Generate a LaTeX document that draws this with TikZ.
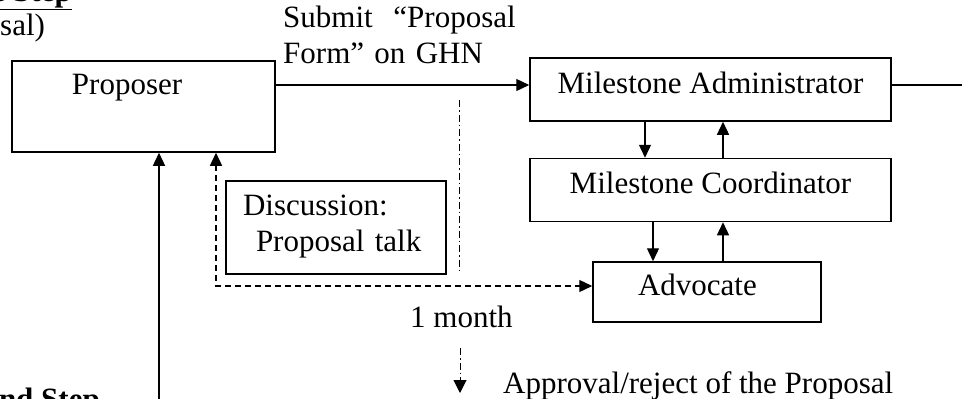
\documentclass[tikz,border=0pt]{standalone}
\usepackage{fontspec}
\setmainfont{Liberation Serif}
\usepackage{tikz}
\usetikzlibrary{arrows.meta,positioning}
\tikzstyle{block} = [rectangle, draw=black, line width=1.5pt, inner sep=0pt, text height=35pt]
\tikzstyle{txt} = [inner sep=0pt]
\tikzstyle{link} = [line width=1.3pt]
\tikzstyle{arrow} = [line width=1.3pt,-{Triangle[length=13pt,width=12pt]}]
\tikzstyle{talk} = [line width=1.3pt, dash pattern=on 6pt off 4pt, {Triangle[length=13pt,width=12pt]}-{Triangle[length=13pt,width=12pt]}]
\tikzstyle{timeline} = [line width=1pt, dash pattern=on 7pt off 3pt on 1.5pt off 3pt]

\begin{document}
\begin{tikzpicture}[x=1pt, y=-1pt, font=\fontsize{31pt}{36pt}\selectfont]
        \useasboundingbox (0,0) rectangle (962,399);
        % boxes
        \node (proposer) [block, minimum width=263pt, minimum height=91pt, text width=263pt, align=left, text height=33pt, text depth=58pt] at (143.5,106.5) {\hspace*{60pt}Proposer};
        \node (admin) [block, minimum width=361pt, minimum height=63pt, text depth=28pt] at (710.5,89.5) {Milestone Administrator};
        \node (coord) [block, minimum width=361pt, minimum height=63pt, text depth=28pt, below=36pt of admin] {Milestone Coordinator};
        \node (advocate) [block, minimum width=228pt, minimum height=60pt, text width=228pt, align=left, text height=33pt, text depth=27pt] at (707,292) {\hspace*{45pt}Advocate};
        \node (discussion) [block, minimum width=220pt, text width=220pt, align=left, text height=34pt, text depth=59pt] at (336,227.5) {\hspace*{17pt}Discussion:\\\hspace*{30pt}Proposal talk};
        % texts
        \node (submit) [txt, anchor=base west, text width=240pt, align=left] at (283,27) {Submit\ \ “Proposal\\Form” on GHN};
        \node (month) [txt, anchor=base west] at (410,327) {1 month};
        \node (approval) [txt, anchor=base west] at (503,393) {Approval/reject of the Proposal};
        \node (firststep) [txt, anchor=base east] at (72,1) {\underline{\textbf{e Step}}};
        \node (proposal) [txt, anchor=base west] at (0,35) {sal)};
        \node (secondstep) [txt, anchor=base east] at (100,409) {\textbf{ond Step}};
        % connectors
        \coordinate (submitend) at ([yshift=4.5pt]admin.west);
        \coordinate (offright) at (962,85);
        \draw [arrow] (submitend -| proposer.east) -- (submitend);
        \draw [link] ([yshift=4.5pt]admin.east) -- (offright);
        \draw [arrow] ([xshift=-65.5pt]admin.south) -- ([xshift=-65.5pt]coord.north);
        \draw [arrow] ([xshift=12.5pt]coord.north) -- ([xshift=12.5pt]admin.south);
        \coordinate (cdown) at ([xshift=-57.5pt]coord.south);
        \coordinate (cup) at ([xshift=12.5pt]coord.south);
        \draw [arrow] (cdown) -- (cdown |- advocate.north);
        \draw [arrow] (cup |- advocate.north) -- (cup);
        \coordinate (talkstart) at ([xshift=72.5pt]proposer.south);
        \coordinate (talkend) at ([yshift=6pt]advocate.west);
        \draw [talk] (talkstart) |- (talkend);
        \coordinate (secondin) at (159,399);
        \draw [arrow] (secondin) -- (secondin |- proposer.south);
        % one month line
        \coordinate (tltop) at (459,100);
        \coordinate (tlbot) at (459,272);
        \draw [timeline] (tltop) -- (tlbot);
        \coordinate (tlarrow) at (460,348);
        \draw [timeline, -{Triangle[length=13pt,width=13pt]}] (tlarrow) -- (tlarrow |- approval.base);
    \end{tikzpicture}
\end{document}
